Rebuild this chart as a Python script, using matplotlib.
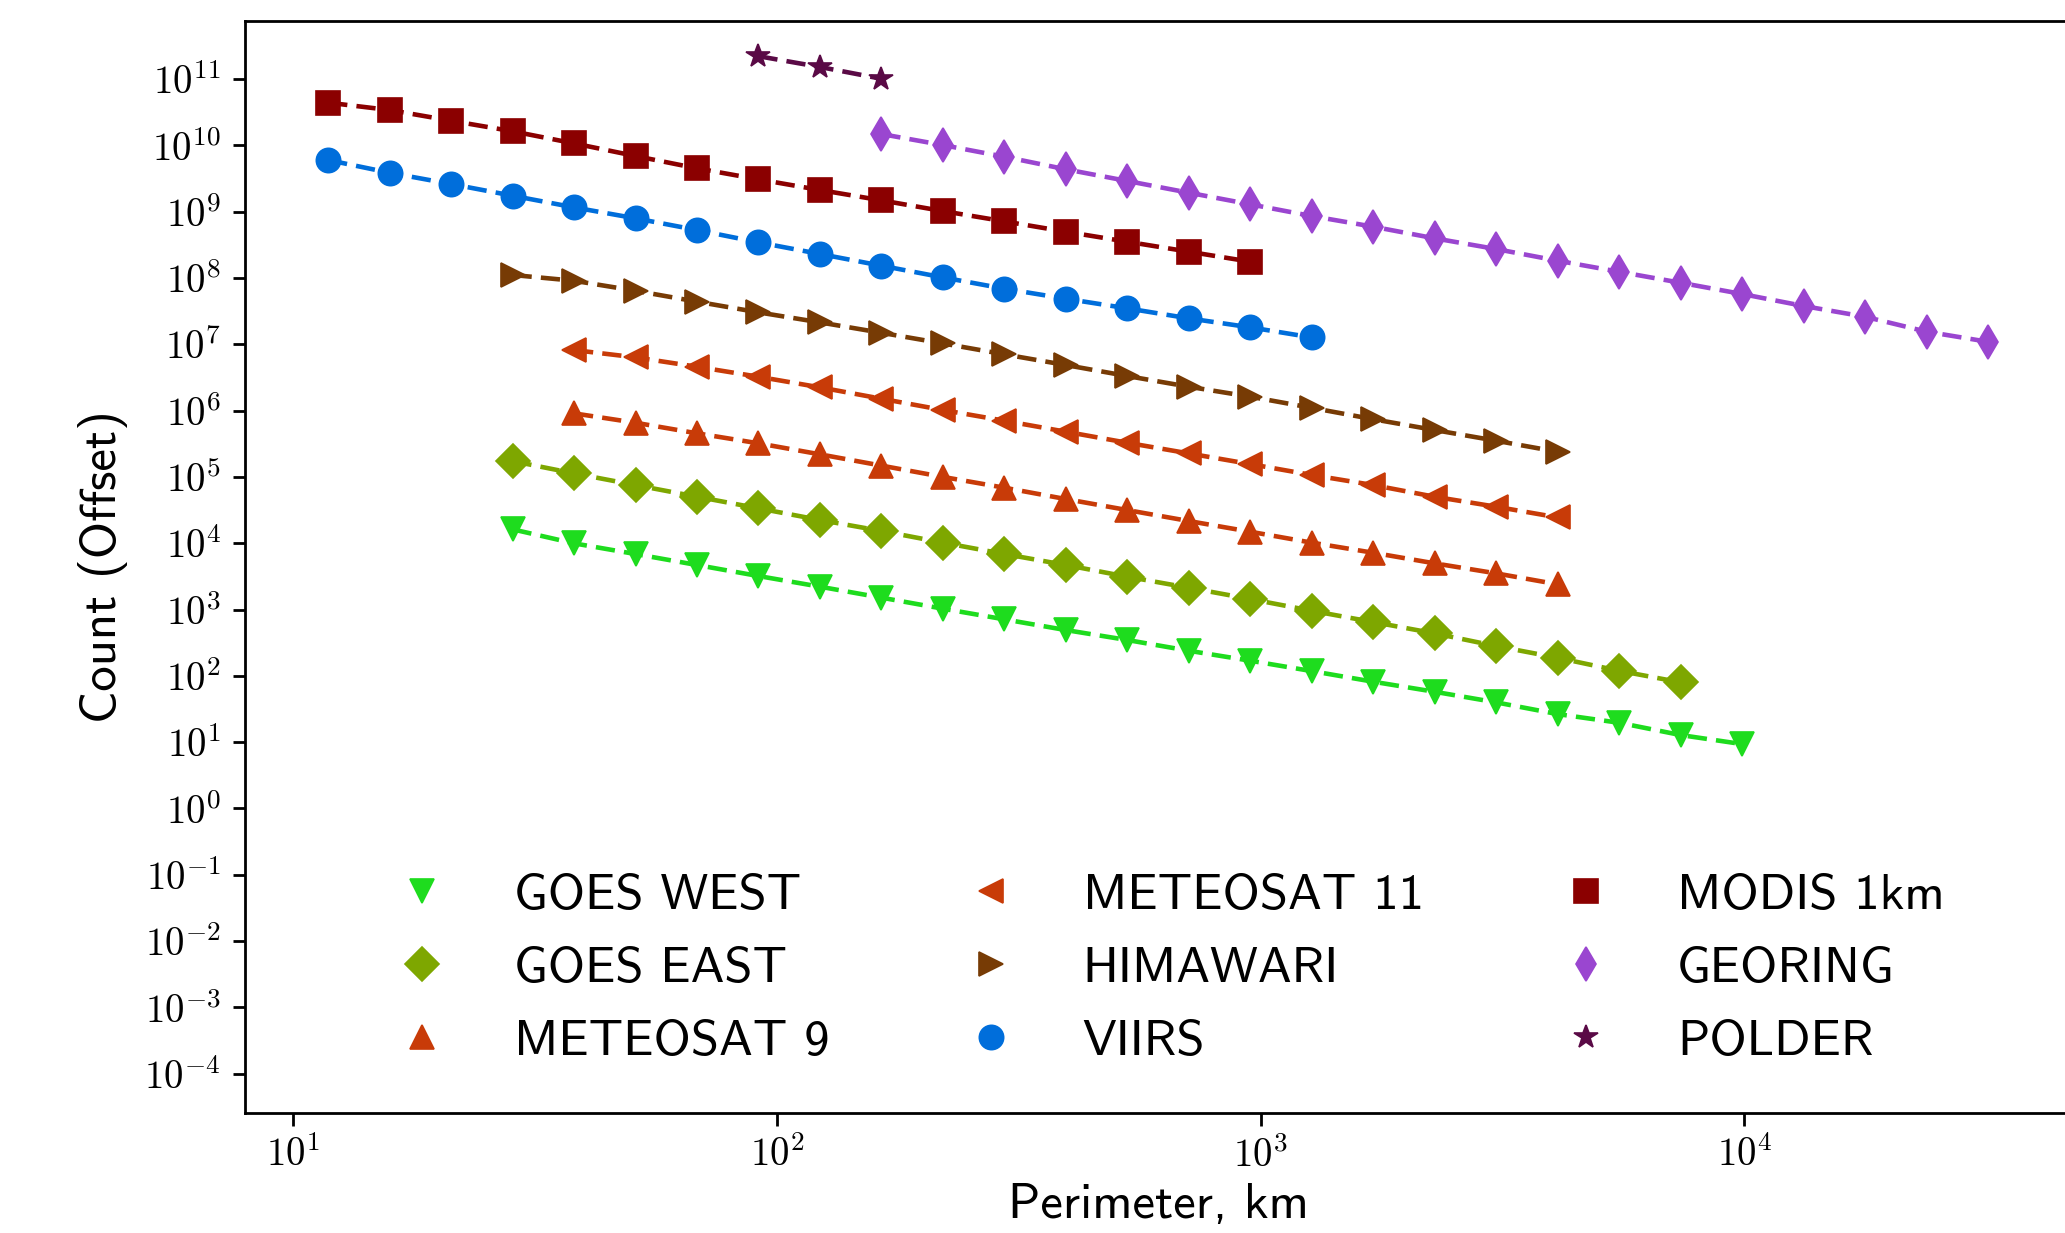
import os
import math
import matplotlib
matplotlib.use("Agg")
import matplotlib.pyplot as plt
from matplotlib.ticker import LogLocator, FuncFormatter, NullLocator
from matplotlib.font_manager import FontProperties, fontManager

plt.rcParams['mathtext.fontset'] = 'cm'

cmss_path = os.path.join(matplotlib.get_data_path(), 'fonts', 'ttf', 'cmss10.ttf')
fontManager.addfont(cmss_path)

# Shared perimeter grid (km)
perimeter_km = [11.80, 15.80, 21.18, 28.38, 38.03, 50.96, 68.30, 91.5, 122.6, 164.3,
                220.1, 295.0, 395.4, 529.7, 709.9, 951.0, 1274, 1708, 2288, 3066,
                4109, 5506, 7378, 9886, 13250, 17750, 23790, 31880]

names = ["GOES WEST", "GOES EAST", "METEOSAT 9", "METEOSAT 11", "HIMAWARI",
         "VIIRS", "MODIS 1km", "GEORING", "POLDER"]
start_index = [3, 3, 4, 4, 3, 0, 0, 9, 7]

goes_west = [1.62e4, 9.95e3, 6.87e3, 4.69e3, 3.20e3, 2.21e3, 1.51e3, 1.03e3, 711, 490,
             347, 239, 169, 118, 81.5, 57.5, 39.8, 26.5, 19.6, 12.8, 9.35]
goes_east = [1.73e5, 1.13e5, 7.53e4, 5.02e4, 3.36e4, 2.24e4, 1.53e4, 1.02e4, 6.87e3, 4.69e3,
             3.12e3, 2.13e3, 1.44e3, 957, 647, 437, 281, 187, 119, 79.8]
meteosat9 = [9.08e5, 6.56e5, 4.54e5, 3.21e5, 2.19e5, 1.48e5, 1.00e5, 6.87e4, 4.63e4, 3.16e4,
             2.16e4, 1.49e4, 1.02e4, 7.18e3, 4.97e3, 3.51e3, 2.40e3]
meteosat11 = [8.18e6, 6.35e6, 4.58e6, 3.24e6, 2.24e6, 1.51e6, 1.02e6, 7.03e5, 4.80e5, 3.27e5,
              2.26e5, 1.56e5, 1.07e5, 7.53e4, 5.02e4, 3.55e4, 2.45e4]
himawari = [1.11e8, 9.08e7, 6.41e7, 4.39e7, 3.03e7, 2.14e7, 1.49e7, 1.03e7, 7.05e6, 4.86e6,
            3.32e6, 2.29e6, 1.62e6, 1.10e6, 7.41e5, 5.09e5, 3.51e5, 2.39e5]
viirs = [6.00e9, 3.86e9, 2.61e9, 1.74e9, 1.16e9, 7.93e8, 5.28e8, 3.44e8, 2.30e8, 1.53e8,
         1.02e8, 6.89e7, 4.86e7, 3.48e7, 2.46e7, 1.80e7, 1.27e7]
modis = [4.40e10, 3.41e10, 2.35e10, 1.63e10, 1.07e10, 6.90e9, 4.50e9, 3.07e9, 2.12e9, 1.48e9,
         1.02e9, 7.14e8, 4.98e8, 3.52e8, 2.49e8, 1.76e8]
georing = [1.48e10, 1.01e10, 6.73e9, 4.35e9, 2.90e9, 1.93e9, 1.29e9, 8.59e8, 5.93e8, 3.96e8,
           2.73e8, 1.82e8, 1.24e8, 8.47e7, 5.73e7, 3.78e7, 2.60e7, 1.55e7, 1.09e7]
polder = [2.21e11, 1.52e11, 1.01e11]

series = [goes_west, goes_east, meteosat9, meteosat11, himawari, viirs, modis, georing, polder]
markers = ['v', 'D', '^', '<', '>', 'o', 's', 'd', '*']
colors = ['#1edc1e', '#7ea700', '#c83b08', '#c83b08', '#773b05', '#006edb', '#8b0000',
          '#9a46d0', '#5a0a46']

TXT = 36.5
cmss = FontProperties(fname=cmss_path, size=TXT)

fig = plt.figure(figsize=(20.65, 12.33), dpi=100)
ax = fig.add_axes([0.11845, 0.09757, 0.8849, 0.8856])

for name, s0, ys, mk, c in zip(names, start_index, series, markers, colors):
    xs = perimeter_km[s0:s0 + len(ys)]
    ax.plot(xs, ys, ls='--', color=c, lw=3.3, dashes=(4.2, 2.0), zorder=2)
    ax.plot(xs, ys, ls='none', marker=mk, color=c, ms=17.5, mew=1.2, label=name, zorder=3)

ax.set_xscale('log')
ax.set_yscale('log')
ax.set_xlim(10 ** 0.899, 10 ** 4.677)
ax.set_ylim(10 ** -4.588, 10 ** 11.879)

def pow_fmt(v, pos):
    e = int(round(math.log10(v)))
    return r'$10^{%d}$' % e

ax.yaxis.set_major_locator(LogLocator(base=10, numticks=30))
ax.xaxis.set_major_locator(LogLocator(base=10, numticks=30))
ax.xaxis.set_major_formatter(FuncFormatter(pow_fmt))
ax.yaxis.set_major_formatter(FuncFormatter(pow_fmt))
ax.xaxis.set_minor_locator(NullLocator())
ax.yaxis.set_minor_locator(NullLocator())

ax.tick_params(axis='both', which='major', labelsize=28, length=9, width=2, pad=8)
for sp in ax.spines.values():
    sp.set_linewidth(2)

ax.set_xlabel("Perimeter, km", fontproperties=cmss, labelpad=6)
ax.set_ylabel("Count (Offset)", fontproperties=cmss, labelpad=12)

leg = ax.legend(loc='lower center', ncol=3, frameon=False, prop=cmss,
                columnspacing=2.2, labelspacing=0.54, borderaxespad=0.55)

fig.savefig("out.png", dpi=100)
